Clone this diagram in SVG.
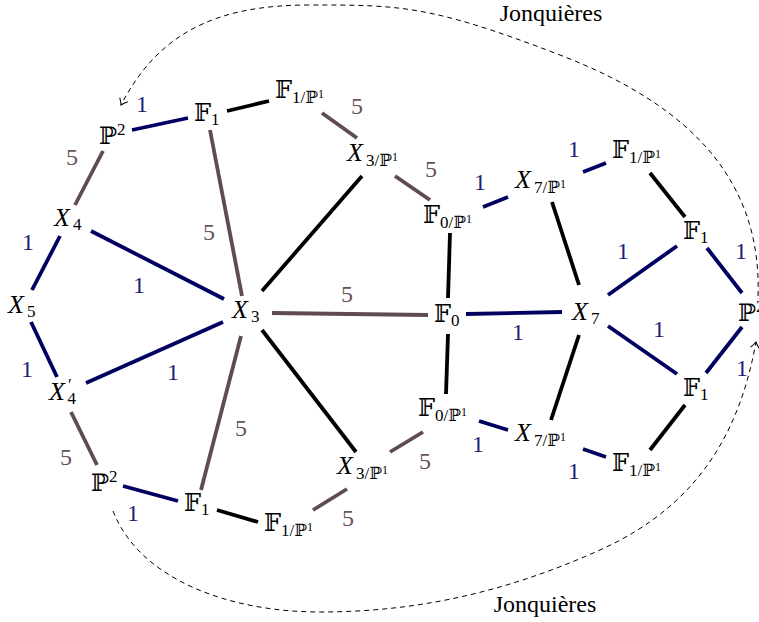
<svg xmlns="http://www.w3.org/2000/svg" width="759" height="622" viewBox="0 0 759 622">
<defs>
<style>
text{font-family:"Liberation Serif","Times New Roman","DejaVu Serif",serif;fill:#000}
.bb{font-family:"DejaVu Serif","DejaVu Sans",serif}
.n{font-size:24px}
.s{font-size:17px}
.ss{font-size:12px}
.i{font-style:italic}
.x{font-style:italic;font-size:26px}
.e{stroke-width:3.8;fill:none}
.k{stroke:#000}
.b{stroke:#000060}
.r{stroke:#5f4b52}
.lb{fill:#1e1e78;font-size:24px;text-anchor:middle}
.lr{fill:#66525a;font-size:24px;text-anchor:middle}
.d{stroke:#000;stroke-width:1;fill:none;stroke-dasharray:5 4}
.j{font-size:24px;text-anchor:middle}
</style>
<marker id="arr" viewBox="-8 -6 10 12" markerWidth="10" markerHeight="12" refX="0" refY="0" orient="auto" markerUnits="userSpaceOnUse">
<path d="M-6,-4.5 Q-2,-1 0,0 Q-2,1 -6,4.5" fill="none" stroke="#000" stroke-width="1"/>
</marker>
</defs>
<rect width="759" height="622" fill="#fff"/>
<g id="connectors">
<line class="e b" x1="132" y1="130" x2="188" y2="118"/>
<line class="e k" x1="227" y1="111" x2="269" y2="101"/>
<line class="e r" x1="322" y1="113" x2="357" y2="138"/>
<line class="e r" x1="395" y1="176" x2="430" y2="200"/>
<line class="e b" x1="483" y1="207" x2="508" y2="197"/>
<line class="e b" x1="583" y1="172" x2="606" y2="163"/>
<line class="e k" x1="650" y1="173" x2="685" y2="217"/>
<line class="e k" x1="552" y1="202" x2="579" y2="285"/>
<line class="e b" x1="608" y1="295" x2="677" y2="246"/>
<line class="e b" x1="707" y1="248" x2="742" y2="293"/>
<line class="e b" x1="466" y1="314" x2="562" y2="312"/>
<line class="e r" x1="272" y1="313" x2="428" y2="315"/>
<line class="e k" x1="450" y1="233" x2="448" y2="298"/>
<line class="e k" x1="448" y1="334" x2="446" y2="394"/>
<line class="e k" x1="579" y1="335" x2="551" y2="420"/>
<line class="e b" x1="608" y1="326" x2="677" y2="374"/>
<line class="e b" x1="742" y1="327" x2="706" y2="373"/>
<line class="e k" x1="685" y1="405" x2="650" y2="450"/>
<line class="e b" x1="583" y1="449" x2="606" y2="457"/>
<line class="e b" x1="479" y1="421" x2="508" y2="430"/>
<line class="e r" x1="423" y1="432" x2="390" y2="452"/>
<line class="e r" x1="347" y1="489" x2="313" y2="510"/>
<line class="e k" x1="217" y1="510" x2="258" y2="522"/>
<line class="e k" x1="262" y1="330" x2="356" y2="452"/>
<line class="e r" x1="201" y1="490" x2="241" y2="336"/>
<line class="e b" x1="123" y1="486" x2="178" y2="501"/>
<line class="e r" x1="97" y1="465" x2="71" y2="412"/>
<line class="e b" x1="57" y1="377" x2="31" y2="322"/>
<line class="e b" x1="86" y1="383" x2="223" y2="322"/>
<line class="e b" x1="91" y1="231" x2="224" y2="299"/>
<line class="e b" x1="32" y1="290" x2="60" y2="236"/>
<line class="e r" x1="75" y1="205" x2="103" y2="151"/>
<line class="e r" x1="210" y1="130" x2="242" y2="296"/>
<line class="e k" x1="262" y1="291" x2="362" y2="176"/>
<path class="d" d="M758,296 C762,180 690,105 560,55 S400,5 310,5 S160,30 121,105" marker-end="url(#arr)"/>
<path class="d" d="M113,511 C140,580 230,612 320,612 S500,595 600,550 S740,430 756,342" marker-end="url(#arr)"/>
<text class="lb" x="142" y="112">1</text>
<text class="lr" x="72" y="165">5</text>
<text class="lb" x="28" y="250">1</text>
<text class="lr" x="209" y="240">5</text>
<text class="lb" x="139" y="293">1</text>
<text class="lb" x="173" y="380">1</text>
<text class="lb" x="27" y="377">1</text>
<text class="lr" x="241" y="436">5</text>
<text class="lr" x="66" y="465">5</text>
<text class="lb" x="133" y="521">1</text>
<text class="lr" x="357" y="114">5</text>
<text class="lr" x="431" y="177">5</text>
<text class="lb" x="480" y="190">1</text>
<text class="lb" x="574" y="157">1</text>
<text class="lb" x="623" y="259">1</text>
<text class="lb" x="741" y="259">1</text>
<text class="lr" x="347" y="302">5</text>
<text class="lb" x="518" y="340">1</text>
<text class="lb" x="659" y="337">1</text>
<text class="lb" x="742" y="376">1</text>
<text class="lb" x="574" y="479">1</text>
<text class="lb" x="478" y="452">1</text>
<text class="lr" x="425" y="469">5</text>
<text class="lr" x="348" y="526">5</text>
<text class="j" x="551" y="21">Jonquières</text>
<text class="j" x="545" y="612">Jonquières</text>
</g>
<g id="n_P2_tl"><text class="n" x="99" y="144"><tspan class="bb">ℙ</tspan><tspan class="s" dy="-9">2</tspan></text></g>
<g id="n_F1_t"><text class="n" x="194" y="121"><tspan class="bb">𝔽</tspan><tspan class="s" dy="4">1</tspan></text></g>
<g id="n_F1P1_t"><text class="n" x="275" y="98"><tspan class="bb">𝔽</tspan><tspan class="s" dy="5">1/</tspan><tspan class="s bb">ℙ</tspan><tspan class="ss" dy="-5">1</tspan></text></g>
<g id="n_X3P1_t"><text class="n" x="347" y="161"><tspan class="x">X</tspan><tspan class="s" dx="3" dy="5">3/</tspan><tspan class="s bb">ℙ</tspan><tspan class="ss" dy="-5">1</tspan></text></g>
<g id="n_F0P1_t"><text class="n" x="423" y="223"><tspan class="bb">𝔽</tspan><tspan class="s" dy="5">0/</tspan><tspan class="s bb">ℙ</tspan><tspan class="ss" dy="-5">1</tspan></text></g>
<g id="n_X7P1_t"><text class="n" x="515" y="188"><tspan class="x">X</tspan><tspan class="s" dx="3" dy="5">7/</tspan><tspan class="s bb">ℙ</tspan><tspan class="ss" dy="-5">1</tspan></text></g>
<g id="n_F1P1_tr"><text class="n" x="612" y="158"><tspan class="bb">𝔽</tspan><tspan class="s" dy="5">1/</tspan><tspan class="s bb">ℙ</tspan><tspan class="ss" dy="-5">1</tspan></text></g>
<g id="n_F1_rt"><text class="n" x="683" y="239"><tspan class="bb">𝔽</tspan><tspan class="s" dy="4">1</tspan></text></g>
<g id="n_P2_r"><text class="n" x="738" y="321"><tspan class="bb">ℙ</tspan><tspan class="s" dy="-9">2</tspan></text></g>
<g id="n_F1_rb"><text class="n" x="683" y="396"><tspan class="bb">𝔽</tspan><tspan class="s" dy="4">1</tspan></text></g>
<g id="n_F1P1_br"><text class="n" x="612" y="471"><tspan class="bb">𝔽</tspan><tspan class="s" dy="5">1/</tspan><tspan class="s bb">ℙ</tspan><tspan class="ss" dy="-5">1</tspan></text></g>
<g id="n_X7P1_b"><text class="n" x="515" y="441"><tspan class="x">X</tspan><tspan class="s" dx="3" dy="5">7/</tspan><tspan class="s bb">ℙ</tspan><tspan class="ss" dy="-5">1</tspan></text></g>
<g id="n_X7"><text class="n" x="572" y="320"><tspan class="x">X</tspan><tspan class="s" dx="3" dy="4">7</tspan></text></g>
<g id="n_F0"><text class="n" x="434" y="322"><tspan class="bb">𝔽</tspan><tspan class="s" dy="4">0</tspan></text></g>
<g id="n_F0P1_b"><text class="n" x="418" y="416"><tspan class="bb">𝔽</tspan><tspan class="s" dy="5">0/</tspan><tspan class="s bb">ℙ</tspan><tspan class="ss" dy="-5">1</tspan></text></g>
<g id="n_X3P1_b"><text class="n" x="337" y="474"><tspan class="x">X</tspan><tspan class="s" dx="3" dy="5">3/</tspan><tspan class="s bb">ℙ</tspan><tspan class="ss" dy="-5">1</tspan></text></g>
<g id="n_F1P1_b"><text class="n" x="264" y="531"><tspan class="bb">𝔽</tspan><tspan class="s" dy="5">1/</tspan><tspan class="s bb">ℙ</tspan><tspan class="ss" dy="-5">1</tspan></text></g>
<g id="n_F1_b"><text class="n" x="184" y="511"><tspan class="bb">𝔽</tspan><tspan class="s" dy="4">1</tspan></text></g>
<g id="n_P2_bl"><text class="n" x="91" y="491"><tspan class="bb">ℙ</tspan><tspan class="s" dy="-9">2</tspan></text></g>
<g id="n_X4p"><text class="n" x="49" y="400"><tspan class="x">X</tspan><tspan class="s" dx="3" dy="-10">′</tspan><tspan class="s" dx="-4" dy="14">4</tspan></text></g>
<g id="n_X5"><text class="n" x="8" y="313"><tspan class="x">X</tspan><tspan class="s" dx="3" dy="4">5</tspan></text></g>
<g id="n_X3"><text class="n" x="232" y="318"><tspan class="x">X</tspan><tspan class="s" dx="3" dy="4">3</tspan></text></g>
<g id="n_X4"><text class="n" x="54" y="226"><tspan class="x">X</tspan><tspan class="s" dx="3" dy="4">4</tspan></text></g>
</svg>
